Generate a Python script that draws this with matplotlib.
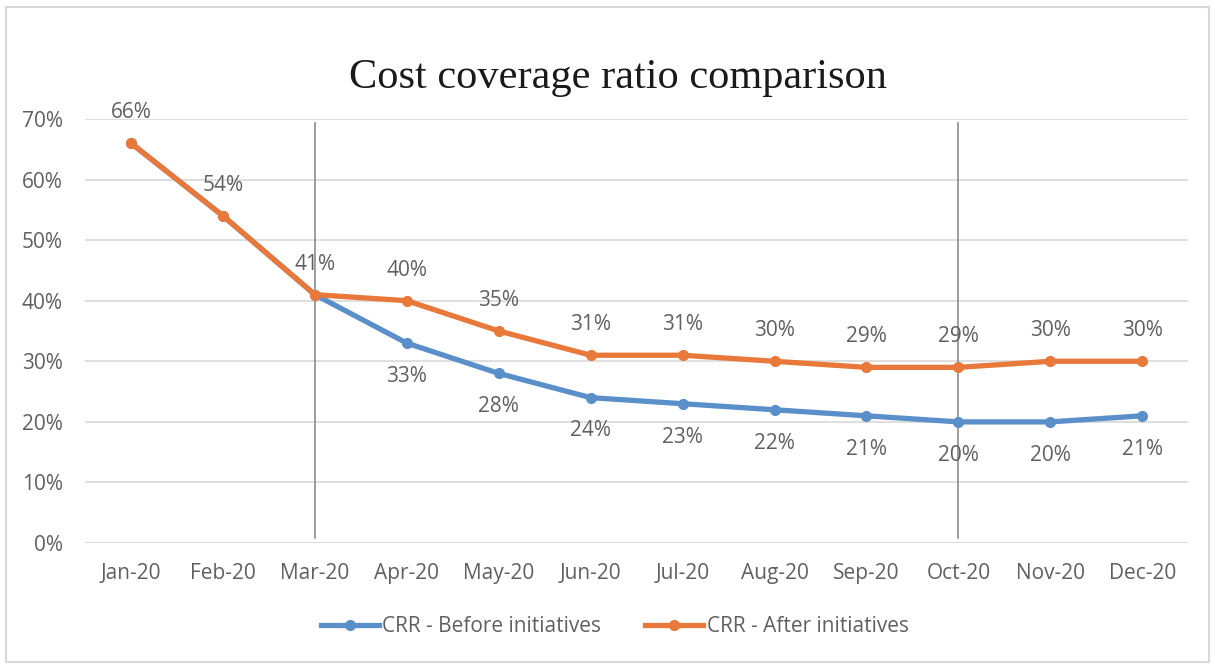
import matplotlib.pyplot as plt
from matplotlib.patches import Rectangle

months = ["Jan-20", "Feb-20", "Mar-20", "Apr-20", "May-20", "Jun-20",
          "Jul-20", "Aug-20", "Sep-20", "Oct-20", "Nov-20", "Dec-20"]
crr_before = [66, 54, 41, 33, 28, 24, 23, 22, 21, 20, 20, 21]
crr_after = [66, 54, 41, 40, 35, 31, 31, 30, 29, 29, 30, 30]
marker_months = ["Mar-20", "Oct-20"]

blue = "#5b8fc9"
orange = "#e8793a"
grey_txt = "#606060"

plt.rcParams['font.family'] = ['Open Sans', 'DejaVu Sans']

fig = plt.figure(figsize=(12.15, 6.68), dpi=100)
ax = fig.add_axes([0.07, 0.187, 0.908, 0.635])

x = list(range(len(months)))

ax.plot(x, crr_before, color=blue, lw=3.8, marker="o", ms=7,
        label="CRR - Before initiatives", zorder=3)
ax.plot(x, crr_after, color=orange, lw=3.8, marker="o", ms=7,
        label="CRR - After initiatives", zorder=4)

for m in marker_months:
    i = months.index(m)
    ax.axvline(i, ymin=0.012, ymax=0.99, color="#8c8c8c", lw=1.2, zorder=2)

# data labels
for i in range(len(months)):
    ax.annotate(f"{crr_after[i]}%", (i, crr_after[i]), xytext=(0, 22),
                textcoords="offset points", ha="center", va="center",
                fontsize=15, color=grey_txt)
    if crr_before[i] != crr_after[i]:
        ax.annotate(f"{crr_before[i]}%", (i, crr_before[i]), xytext=(0, -24),
                    textcoords="offset points", ha="center", va="center",
                    fontsize=15, color=grey_txt)

ax.set_xlim(-0.5, len(months) - 0.5)
ax.set_ylim(0, 70)
ax.set_yticks(range(0, 71, 10))
ax.set_yticklabels([f"{v}%" for v in range(0, 71, 10)])
ax.set_xticks(x)
ax.set_xticklabels(months)
ax.tick_params(axis="both", length=0, labelsize=15, colors=grey_txt)
ax.tick_params(axis="x", pad=14)
ax.tick_params(axis="y", pad=16)
ax.grid(axis="y", color="#d9d9d9", lw=1.2)
ax.set_axisbelow(True)
for s in ax.spines.values():
    s.set_visible(False)
ax.axhline(0, color="#d9d9d9", lw=1.2, zorder=1)

fig.text(0.509, 0.884, "Cost coverage ratio comparison", ha="center", va="center",
         fontsize=30.5, family="Liberation Serif", color="#1a1a1a")

leg = fig.legend(loc="center", bbox_to_anchor=(0.506, 0.062), ncol=2,
                 frameon=False, fontsize=15, handlelength=2.8,
                 columnspacing=2.1, handletextpad=0.15)
for t in leg.get_texts():
    t.set_color(grey_txt)

fig.patches.append(Rectangle((0.005, 0.009), 0.99, 0.98, transform=fig.transFigure,
                             fill=False, ec="#d9d9d9", lw=1.5))

fig.savefig("out.png", dpi=100)
